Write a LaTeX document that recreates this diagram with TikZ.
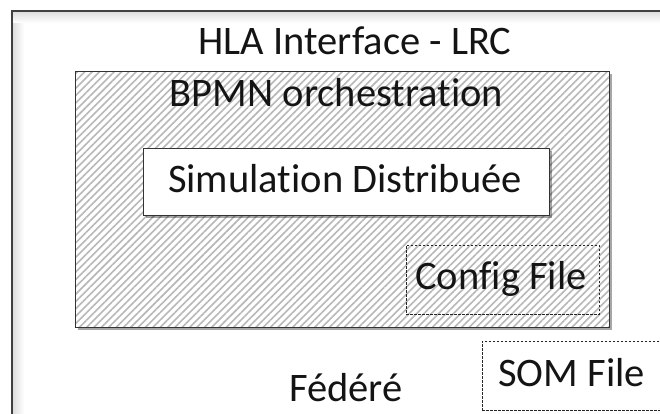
\documentclass[tikz,border=0pt]{standalone}
\usepackage{fontspec}
\setmainfont[Ligatures=NoCommon]{Carlito}
\usetikzlibrary{patterns.meta,shadows}
\tikzset{
  lbl/.style={anchor=base, inner sep=0pt, font=\fontsize{40.5}{44}\selectfont, text=black!92},
  solidbox/.style={draw=black!80, line width=1.2pt, inner sep=0pt},
  dashbox/.style={draw=black!85, line width=0.9pt, dash pattern=on 2.2pt off 1.8pt, inner sep=0pt},
  softshadow/.style={drop shadow={shadow xshift=2.5pt, shadow yshift=-2.5pt, fill=black, opacity=0.35}}
}
\begin{document}
\begin{tikzpicture}[x=1pt,y=1pt]
\useasboundingbox (0,0) rectangle (660,414);
\begin{scope}
\clip (0,0) rectangle (660,414);
% outer frame with inner soft shade
\fill[white] (0,0) rectangle (660,414);
\shade[left color=black!14, right color=white] (12,0) rectangle (24,403);
\shade[top color=black!14, bottom color=white] (12,391) rectangle (680,403);
\node[draw=black!75, line width=1.6pt, minimum width=680pt, minimum height=420pt, anchor=north west, inner sep=0pt] (outer) at (11,404) {};
% hatched BPMN box
\node[solidbox, softshadow, minimum width=534pt, minimum height=256pt, anchor=north west,
      preaction={fill=white}, pattern={Lines[angle=45,distance=5.2pt,line width=1.6pt]}, pattern color=black!28] (bpmn) at (75,343) {};
% Simulation box
\node[solidbox, softshadow, fill=white, minimum width=406pt, minimum height=67pt, anchor=north west] (sim) at (143,266) {};
% Config file box
\node[dashbox, minimum width=193pt, minimum height=69pt, anchor=north west] (config) at (406,169) {};
% SOM file box
\node[dashbox, minimum width=200pt, minimum height=69pt, anchor=north west] (som) at (482,73) {};
% labels
\node[lbl] (hla) at (355,359) {HLA Interface - LRC};
\node[lbl] (bpmnlbl) at (336.5,307) {BPMN orchestration};
\node[lbl] (simlbl) at (345,221) {Simulation Distribuée};
\node[lbl] (configlbl) at (501,124) {Config File};
\node[lbl] (federe) at (346,12) {Fédéré};
\node[lbl] (somlbl) at (571.5,27) {SOM File};
\end{scope}
\end{tikzpicture}
\end{document}
